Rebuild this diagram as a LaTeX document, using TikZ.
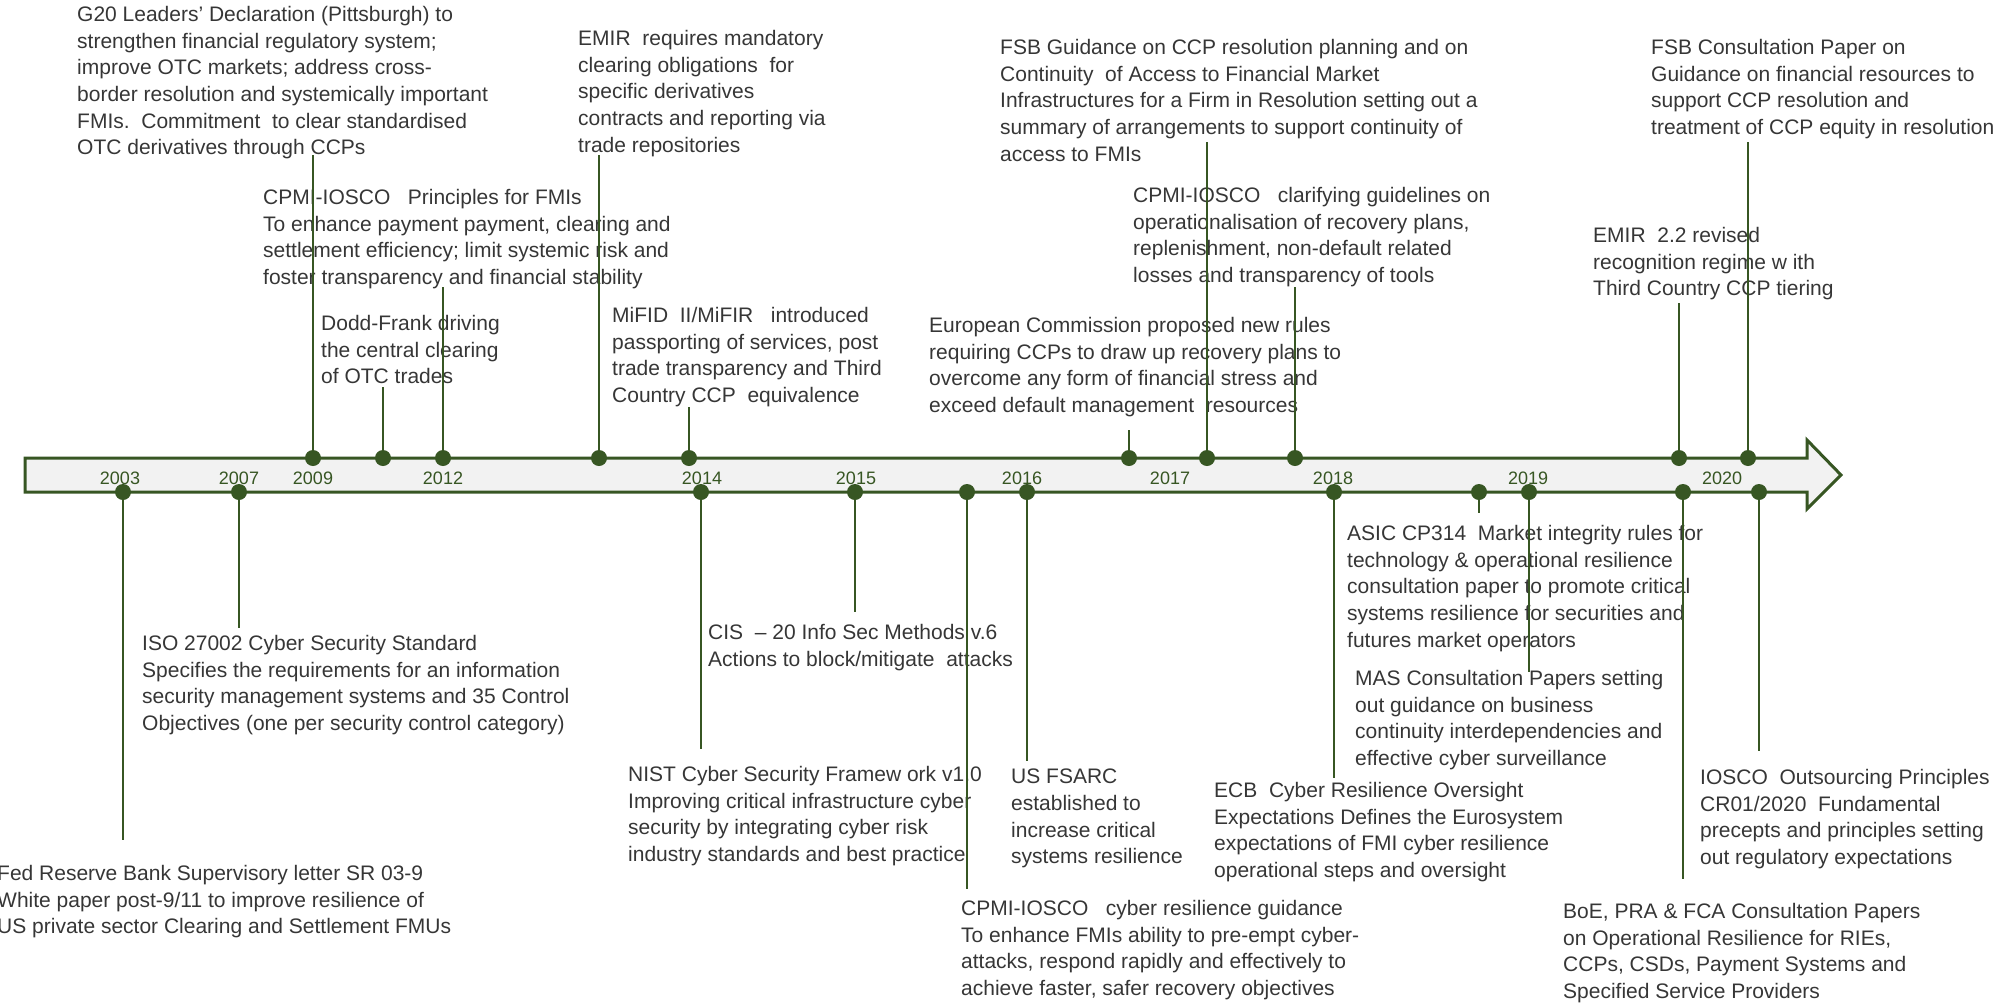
\documentclass[tikz,border=0pt]{standalone}
\usepackage{fontspec}
\setmainfont{Liberation Sans}
\usepackage{tikz}
\definecolor{tlgreen}{HTML}{375623}
\definecolor{barfill}{HTML}{F2F2F2}
\definecolor{txtgray}{HTML}{363636}

\begin{document}
\begin{tikzpicture}[x=1pt,y=-1pt,
    evdot/.style={circle,fill=tlgreen,inner sep=0pt,minimum size=16pt},
    stem/.style={draw=tlgreen,line width=2pt},
    evtext/.style={anchor=north west,inner sep=0pt,align=left,text=txtgray,
      font=\fontsize{21}{26.7}\selectfont},
    yearlbl/.style={text=tlgreen,inner sep=0pt,font=\fontsize{18}{20}\selectfont}]
    \useasboundingbox (0,0) rectangle (2004,1002);
    % the time arrow
    \draw[tlgreen,line width=3pt,fill=barfill,line join=miter]
      (25,458) -- (1807,458) -- (1807,440) -- (1841,475) -- (1807,509)
      -- (1807,492) -- (25,492) -- cycle;
    % years
    \node[yearlbl] (y03) at (120,478) {2003};
    \node[yearlbl] (y07) at (239,478) {2007};
    \node[yearlbl] (y09) at (313,478) {2009};
    \node[yearlbl] (y12) at (443,478) {2012};
    \node[yearlbl] (y14) at (702,478) {2014};
    \node[yearlbl] (y15) at (856,478) {2015};
    \node[yearlbl] (y16) at (1022,478) {2016};
    \node[yearlbl] (y17) at (1170,478) {2017};
    \node[yearlbl] (y18) at (1333,478) {2018};
    \node[yearlbl] (y19) at (1528,478) {2019};
    \node[yearlbl] (y20) at (1722,478) {2020};

    % events above the arrow
    \node[evtext] (g20) at (77,6) {G20 Leaders' Declaration (Pittsburgh) to\\
      strengthen financial regulatory system;\\
      improve OTC markets; address cross-\\
      border resolution and systemically important\\
      FMIs.\ \ Commitment\ \ to clear standardised\\
      OTC derivatives through CCPs};
    \node[evtext] (pfmi) at (263,189) {CPMI-IOSCO\ \ \ Principles for FMIs\\
      To enhance payment payment, clearing and\\
      settlement efficiency; limit systemic risk and\\
      foster transparency and financial stability};
    \node[evtext] (emir) at (578,30) {EMIR\ \ requires mandatory\\
      clearing obligations\ \ for\\
      specific derivatives\\
      contracts and reporting via\\
      trade repositories};
    \node[evtext] (dodd) at (321,315) {Dodd-Frank driving\\
      the central clearing\\
      of OTC trades};
    \node[evtext] (mifid) at (612,307) {MiFID\ \ II/MiFIR\ \ \ introduced\\
      passporting of services, post\\
      trade transparency and Third\\
      Country CCP\ \ equivalence};
    \node[evtext] (fsbg) at (1000,39) {FSB Guidance on CCP resolution planning and on\\
      Continuity\ \ of Access to Financial Market\\
      Infrastructures for a Firm in Resolution setting out a\\
      summary of arrangements to support continuity of\\
      access to FMIs};
    \node[evtext] (cpmic) at (1133,187) {CPMI-IOSCO\ \ \ clarifying guidelines on\\
      operationalisation of recovery plans,\\
      replenishment, non-default related\\
      losses and transparency of tools};
    \node[evtext] (ec) at (929,317) {European Commission proposed new rules\\
      requiring CCPs to draw up recovery plans to\\
      overcome any form of financial stress and\\
      exceed default management\ \ resources};
    \node[evtext] (fsbc) at (1651,39) {FSB Consultation Paper on\\
      Guidance on financial resources to\\
      support CCP resolution and\\
      treatment of CCP equity in resolution};
    \node[evtext] (emir2) at (1593,227) {EMIR\ \ 2.2 revised\\
      recognition regime w ith\\
      Third Country CCP tiering};

    % events below the arrow
    \node[evtext] (fed) at (-3,865) {Fed Reserve Bank Supervisory letter SR 03-9\\
      White paper post-9/11 to improve resilience of\\
      US private sector Clearing and Settlement FMUs};
    \node[evtext] (iso) at (142,635) {ISO 27002 Cyber Security Standard\\
      Specifies the requirements for an information\\
      security management systems and 35 Control\\
      Objectives (one per security control category)};
    \node[evtext] (cis) at (708,624) {CIS\ \ -- 20 Info Sec Methods v.6\\
      Actions to block/mitigate\ \ attacks};
    \node[evtext] (nist) at (628,766) {NIST Cyber Security Framew ork v1.0\\
      Improving critical infrastructure cyber\\
      security by integrating cyber risk\\
      industry standards and best practice};
    \node[evtext] (fsarc) at (1011,769) {US FSARC\\
      established to\\
      increase critical\\
      systems resilience};
    \node[evtext] (cyber) at (961,900) {CPMI-IOSCO\ \ \ cyber resilience guidance\\
      To enhance FMIs ability to pre-empt cyber-\\
      attacks, respond rapidly and effectively to\\
      achieve faster, safer recovery objectives};
    \node[evtext] (ecb) at (1214,782) {ECB\ \ Cyber Resilience Oversight\\
      Expectations Defines the Eurosystem\\
      expectations of FMI cyber resilience\\
      operational steps and oversight};
    \node[evtext] (asic) at (1347,525) {ASIC CP314\ \ Market integrity rules for\\
      technology \& operational resilience\\
      consultation paper to promote critical\\
      systems resilience for securities and\\
      futures market operators};
    \node[evtext] (mas) at (1355,670) {MAS Consultation Papers setting\\
      out guidance on business\\
      continuity interdependencies and\\
      effective cyber surveillance};
    \node[evtext] (boe) at (1563,903) {BoE, PRA \& FCA Consultation Papers\\
      on Operational Resilience for RIEs,\\
      CCPs, CSDs, Payment Systems and\\
      Specified Service Providers};
    \node[evtext] (iosco) at (1700,769) {IOSCO\ \ Outsourcing Principles\\
      CR01/2020\ \ Fundamental\\
      precepts and principles setting\\
      out regulatory expectations};

    % stems up
    \coordinate (g20e) at (313,155);
    \coordinate (dodde) at (383,387);
    \coordinate (pfmie) at (443,287);
    \coordinate (emire) at (599,155);
    \coordinate (mifide) at (689,407);
    \coordinate (ece) at (1129,430);
    \coordinate (fsbge) at (1207,142);
    \coordinate (cpmice) at (1295,287);
    \coordinate (emirtwoe) at (1679,303);
    \coordinate (fsbce) at (1748,142);
    % stems down
    \coordinate (fede) at (123,840);
    \coordinate (isoe) at (239,628);
    \coordinate (niste) at (701,749);
    \coordinate (cise) at (855,612);
    \coordinate (cybere) at (967,889);
    \coordinate (fsarce) at (1027,761);
    \coordinate (ecbe) at (1334,778);
    \coordinate (asice) at (1479,513);
    \coordinate (mase) at (1529,672);
    \coordinate (boee) at (1683,879);
    \coordinate (ioscoe) at (1759,751);

    % dots on the arrow
    \node[evdot] (g20d) at (313,458) {};
    \node[evdot] (doddd) at (383,458) {};
    \node[evdot] (pfmid) at (443,458) {};
    \node[evdot] (emird) at (599,458) {};
    \node[evdot] (mifidd) at (689,458) {};
    \node[evdot] (ecd) at (1129,458) {};
    \node[evdot] (fsbgd) at (1207,458) {};
    \node[evdot] (cpmicd) at (1295,458) {};
    \node[evdot] (emirtwod) at (1679,458) {};
    \node[evdot] (fsbcd) at (1748,458) {};
    \node[evdot] (fedd) at (123,492) {};
    \node[evdot] (isod) at (239,492) {};
    \node[evdot] (nistd) at (701,492) {};
    \node[evdot] (cisd) at (855,492) {};
    \node[evdot] (cyberd) at (967,492) {};
    \node[evdot] (fsarcd) at (1027,492) {};
    \node[evdot] (ecbd) at (1334,492) {};
    \node[evdot] (asicd) at (1479,492) {};
    \node[evdot] (masd) at (1529,492) {};
    \node[evdot] (boed) at (1683,492) {};
    \node[evdot] (ioscod) at (1759,492) {};

    \draw[stem] (g20d) -- (g20e);
    \draw[stem] (doddd) -- (dodde);
    \draw[stem] (pfmid) -- (pfmie);
    \draw[stem] (emird) -- (emire);
    \draw[stem] (mifidd) -- (mifide);
    \draw[stem] (ecd) -- (ece);
    \draw[stem] (fsbgd) -- (fsbge);
    \draw[stem] (cpmicd) -- (cpmice);
    \draw[stem] (emirtwod) -- (emirtwoe);
    \draw[stem] (fsbcd) -- (fsbce);
    \draw[stem] (fedd) -- (fede);
    \draw[stem] (isod) -- (isoe);
    \draw[stem] (nistd) -- (niste);
    \draw[stem] (cisd) -- (cise);
    \draw[stem] (cyberd) -- (cybere);
    \draw[stem] (fsarcd) -- (fsarce);
    \draw[stem] (ecbd) -- (ecbe);
    \draw[stem] (asicd) -- (asice);
    \draw[stem] (masd) -- (mase);
    \draw[stem] (boed) -- (boee);
    \draw[stem] (ioscod) -- (ioscoe);
  \end{tikzpicture}
\end{document}
